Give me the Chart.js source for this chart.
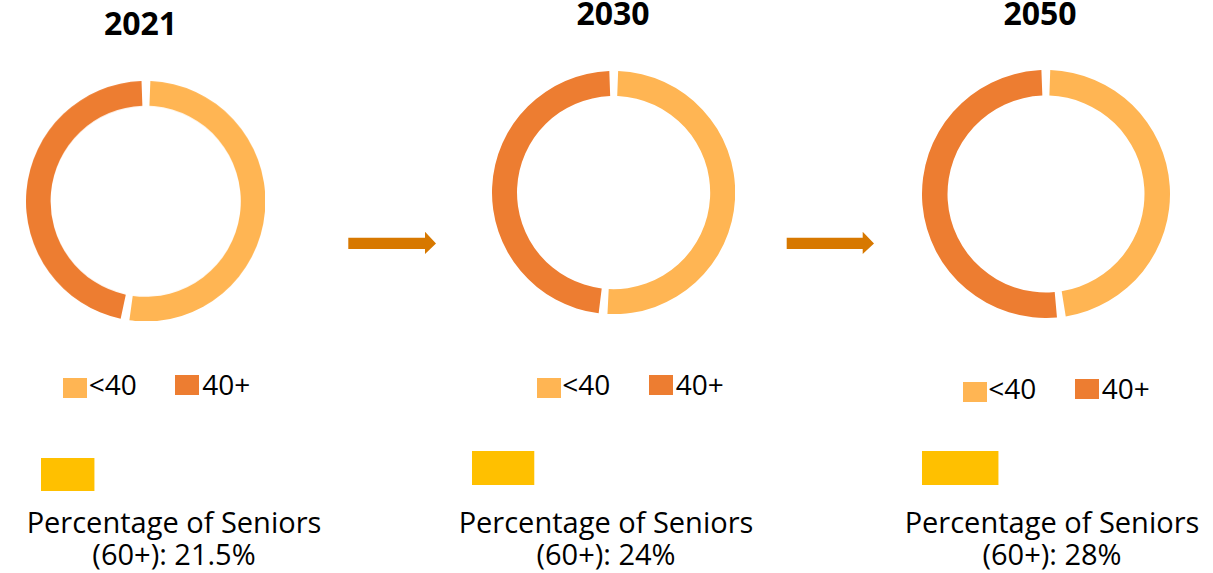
<!DOCTYPE html>
<html>
<head>
<meta charset="utf-8">
<script src="https://cdn.jsdelivr.net/npm/chart.js@4/dist/chart.umd.min.js"></script>
<style>
  html, body { margin: 0; padding: 0; background: #fff; }
  body { width: 1213px; height: 573px; position: relative; overflow: hidden; font-family: "Open Sans", sans-serif; color: #000; }
  .abs { position: absolute; }
  .title { font-weight: 700; font-size: 32px; line-height: 32px; width: 200px; text-align: center; }
  .caption { font-size: 29px; line-height: 32px; width: 400px; text-align: center; white-space: nowrap; }
  .swatch { position: absolute; width: 24px; height: 20px; }
  .legtext { position: absolute; font-size: 28px; line-height: 28px; white-space: nowrap; }
</style>
</head>
<body>
<svg class="abs" style="left:0;top:0" width="1213" height="573" id="arrows"></svg>
<script>
// ---------- data ----------
const years = ["2021", "2030", "2050"];
const ageGroups = ["<40", "40+"];
const under40 = [52.8, 51.4, 48.0];   // % share
const over40  = [47.2, 48.6, 52.0];
const seniorShare = [21.5, 24, 28];   // % of population aged 60+

const COL_LIGHT = "#FFB553";
const COL_DARK  = "#ED7D31";
const COL_GOLD  = "#FFC000";
const COL_ARROW = "#D77800";

// ---------- layout (pixels) ----------
const ring = [
  { cx: 145.3, cy: 201.0, r: 119.7 },
  { cx: 613.3, cy: 192.5, r: 121.6 },
  { cx: 1045.5, cy: 194.0, r: 124.0 }
];
const titleBase = [35, 25.5, 25.5];
const titleCx = [140.5, 613, 1040];
const legendAt = [ { x: 63.3, y: 375 }, { x: 536.7, y: 375 }, { x: 962.7, y: 379 } ];
const barAt = [ { x: 41, y: 458, h: 33 }, { x: 471.7, y: 451, h: 34 }, { x: 922, y: 451, h: 34 } ];
const captionCx = [174, 606, 1052];
const SPACING = 5;

const $ = (tag, cls, css) => {
  const el = document.createElement(tag);
  if (cls) el.className = cls;
  Object.assign(el.style, css || {});
  document.body.appendChild(el);
  return el;
};

years.forEach((yr, i) => {
  // title
  const t = $("div", "abs title", { left: (titleCx[i] - 100) + "px", top: (titleBase[i] - 28.4) + "px" });
  t.textContent = yr;

  // doughnut (chart.js shrinks by spacing/2 then arcs grow back by it)
  const g = ring[i];
  const size = 2 * g.r;
  const wrap = $("div", "abs", { left: (g.cx - size / 2) + "px", top: (g.cy - size / 2) + "px", width: size + "px", height: size + "px" });
  const cv = document.createElement("canvas");
  wrap.appendChild(cv);
  new Chart(cv.getContext("2d"), {
    type: "doughnut",
    data: {
      labels: ageGroups,
      datasets: [{ data: [under40[i], over40[i]], backgroundColor: [COL_LIGHT, COL_DARK], borderWidth: 0 }]
    },
    options: {
      responsive: true, maintainAspectRatio: false, animation: false,
      cutout: "79%", spacing: SPACING, rotation: 0,
      layout: { padding: 0 },
      plugins: { legend: { display: false }, tooltip: { enabled: false } }
    }
  });

  // legend (HTML)
  const L = legendAt[i];
  ageGroups.forEach((lab, j) => {
    const x = L.x + j * 112;
    $("div", "swatch", { left: x + "px", top: (L.y + (j === 0 ? 3 : 0)) + "px", background: j === 0 ? COL_LIGHT : COL_DARK });
    const tx = $("div", "legtext", { left: (x + (j === 0 ? 25.5 : 27)) + "px", top: (L.y + 20 - 24.9) + "px" });
    tx.textContent = lab;
  });

  // seniors bar
  const b = barAt[i];
  const bw = $("div", "abs", { left: b.x + "px", top: b.y + "px", width: "100px", height: b.h + "px" });
  const bc = document.createElement("canvas");
  bw.appendChild(bc);
  new Chart(bc.getContext("2d"), {
    type: "bar",
    data: { labels: [yr], datasets: [{ data: [seniorShare[i]], backgroundColor: COL_GOLD, borderWidth: 0, barPercentage: 1, categoryPercentage: 1 }] },
    options: {
      indexAxis: "y", responsive: true, maintainAspectRatio: false, animation: false,
      layout: { padding: 0 },
      scales: {
        x: { display: false, min: 6.5, max: 6.5 + 100 / 3.54 },
        y: { display: false }
      },
      plugins: { legend: { display: false }, tooltip: { enabled: false } }
    }
  });

  // caption
  const c = $("div", "abs caption", { left: (captionCx[i] - 200) + "px", top: (533.3 - 27.25) + "px" });
  c.innerHTML = "Percentage of Seniors<br>(60+): " + seniorShare[i] + "%";
});

// ---------- arrows ----------
const svg = document.getElementById("arrows");
[[348.3, 425, 436], [786.7, 862.7, 874]].forEach(([x0, xh, xt]) => {
  const p = document.createElementNS("http://www.w3.org/2000/svg", "polygon");
  p.setAttribute("points", `${x0},237.7 ${xh},237.7 ${xh},231.7 ${xt},243.4 ${xh},254 ${xh},249 ${x0},249`);
  p.setAttribute("fill", COL_ARROW);
  svg.appendChild(p);
});
</script>
</body>
</html>
